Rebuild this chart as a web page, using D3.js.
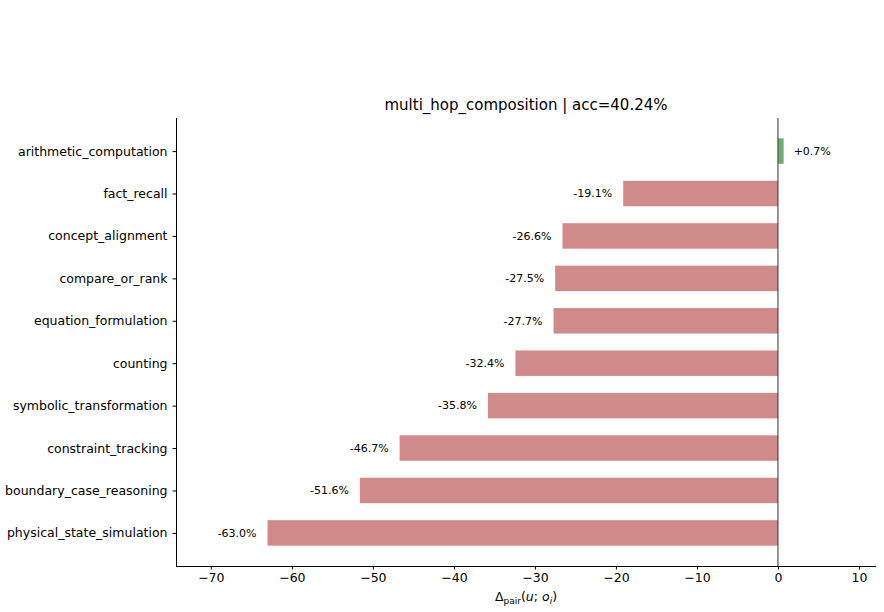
<!DOCTYPE html>
<html>
  <head>
    <meta charset="utf-8">
    <title>multi_hop_composition</title>
    <script src="https://d3js.org/d3.v7.min.js"></script>
    <style>
      body { margin: 0; background: #fff; }
      text { font-family: "DejaVu Sans", sans-serif; fill: #000; }
    </style>
  </head>
  <body>
    <script>
      // values
      var categories = ["arithmetic_computation", "fact_recall", "concept_alignment", "compare_or_rank",
        "equation_formulation", "counting", "symbolic_transformation", "constraint_tracking",
        "boundary_case_reasoning", "physical_state_simulation"];
      var deltas = [0.7, -19.1, -26.6, -27.5, -27.7, -32.4, -35.8, -46.7, -51.6, -63.0];
      var xTicks = [-70, -60, -50, -40, -30, -20, -10, 0, 10];
      var title = "multi_hop_composition | acc=40.24%";

      var width = 884, height = 612;
      // plot box (note: "top" is taken by window.top, so use a prefix)
      var plotLeft = 176, plotRight = 876, plotTop = 118, plotBottom = 566;

      var svg = d3.select("body").append("svg")
        .attr("width", width)
        .attr("height", height);

      var x = d3.scaleLinear().domain([-74.3, 12.1]).range([plotLeft, plotRight]);
      // matplotlib-like: bar height 0.6, 5% margins
      var y = d3.scaleLinear().domain([-0.78, 9.78]).range([plotTop, plotBottom]);
      var barH = 0.6 * (y(1) - y(0));

      // bars
      svg.selectAll("rect.bar")
        .data(deltas)
        .enter().append("rect")
          .attr("class", "bar")
          .attr("x", function(d) { return x(Math.min(0, d)); })
          .attr("y", function(d, i) { return y(i) - barH / 2; })
          .attr("width", function(d) { return Math.abs(x(d) - x(0)); })
          .attr("height", barH)
          .attr("fill", function(d) { return d >= 0 ? "#72ae72" : "#d18a8a"; });

      // zero line
      svg.append("line")
        .attr("x1", x(0)).attr("x2", x(0))
        .attr("y1", plotTop).attr("y2", plotBottom)
        .attr("stroke", "#333").attr("stroke-width", 1);

      // value labels
      svg.selectAll("text.val")
        .data(deltas)
        .enter().append("text")
          .attr("class", "val")
          .attr("x", function(d) { return d >= 0 ? x(d) + 10 : x(d) - 11; })
          .attr("y", function(d, i) { return y(i); })
          .attr("dy", "0.35em")
          .attr("text-anchor", function(d) { return d >= 0 ? "start" : "end"; })
          .style("font-size", "11px")
          .text(function(d) { return (d >= 0 ? "+" : "") + d.toFixed(1) + "%"; });

      // x axis
      var xAxis = svg.append("g")
        .attr("transform", "translate(0," + plotBottom + ")")
        .call(d3.axisBottom(x).tickValues(xTicks).tickSizeOuter(0).tickSize(3.5).tickPadding(4));
      xAxis.select(".domain").remove();
      xAxis.selectAll("text").style("font-size", "12.5px").style("font-family", "DejaVu Sans");

      // y axis
      var yAxis = svg.append("g")
        .attr("transform", "translate(" + plotLeft + ",0)")
        .call(d3.axisLeft(y).tickValues(d3.range(categories.length))
          .tickFormat(function(i) { return categories[i]; })
          .tickSizeOuter(0).tickSize(3.5).tickPadding(5));
      yAxis.select(".domain").remove();
      yAxis.selectAll("text").style("font-size", "12.5px").style("font-family", "DejaVu Sans");

      // left and bottom spines
      svg.append("line")
        .attr("x1", plotLeft + 0.5).attr("x2", plotLeft + 0.5)
        .attr("y1", plotTop).attr("y2", plotBottom + 0.5)
        .attr("stroke", "#000");
      svg.append("line")
        .attr("x1", plotLeft).attr("x2", plotRight)
        .attr("y1", plotBottom + 0.5).attr("y2", plotBottom + 0.5)
        .attr("stroke", "#000");

      // title
      svg.append("text")
        .attr("x", (plotLeft + plotRight) / 2)
        .attr("y", 110)
        .attr("text-anchor", "middle")
        .style("font-size", "15px")
        .text(title);

      // x label
      var xl = svg.append("text")
        .attr("x", (plotLeft + plotRight) / 2)
        .attr("y", 601)
        .attr("text-anchor", "middle")
        .style("font-size", "12.5px");
      xl.append("tspan").text("Δ");
      xl.append("tspan").attr("dy", 3).style("font-size", "9px").text("pair");
      xl.append("tspan").attr("dy", -3).text("(");
      xl.append("tspan").style("font-style", "italic").text("u");
      xl.append("tspan").text("; ");
      xl.append("tspan").style("font-style", "italic").text("o");
      xl.append("tspan").attr("dy", 3).style("font-size", "9px").style("font-style", "italic").text("i");
      xl.append("tspan").attr("dy", -3).text(")");
    </script>
  </body>
</html>
